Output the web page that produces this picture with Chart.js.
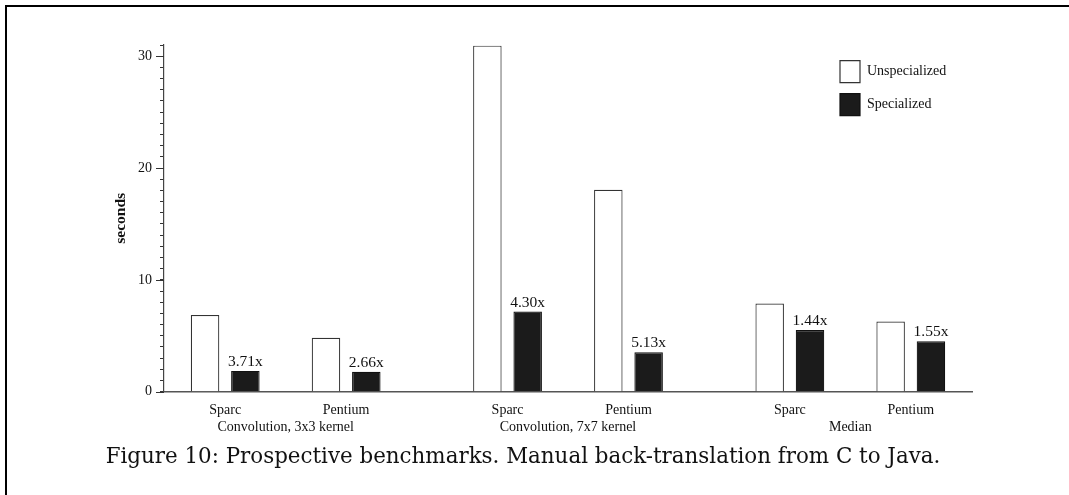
<!doctype html>
<html lang="en">

<head>
	<meta charset="utf-8">
	<title></title>
	<style>
		* {
			margin: 0;
			padding: 0;
		}

		body {
			width: 1069px;
			height: 495px;
			background: #fff;
			position: relative;
			overflow: hidden;
		}

		.frame {
			position: absolute;
			left: 5px;
			top: 5px;
			width: 1080px;
			height: 500px;
			border-top: 2px solid #000;
			border-left: 2px solid #000;
		}

		.chartBox {
			position: absolute;
			left: 0;
			top: 0;
			width: 1069px;
			height: 495px;
		}

		.caption {
			position: absolute;
			left: 0;
			width: 1046px;
			top: 443px;
			text-align: center;
			font-family: 'DejaVu Serif';
			font-size: 21.4px;
			color: #111;
			white-space: nowrap;
		}
	</style>
</head>

<body>
	<div class="frame"></div>
	<div class="chartBox">
		<canvas id="benchChart"></canvas>
	</div>
	<div class="caption">Figure 10: Prospective benchmarks. Manual back-translation from C to Java.</div>

	<script src="https://cdn.jsdelivr.net/npm/chart.js"></script>
	<script>
		const groups = ['Convolution, 3x3 kernel', 'Convolution, 7x7 kernel', 'Median']
		const machines = ['Sparc', 'Pentium']
		const sparcUnspecialized = [6.85, 30.94, 7.89]
		const sparcSpecialized = [1.86, 7.17, 5.51]
		const pentiumUnspecialized = [4.82, 18.06, 6.28]
		const pentiumSpecialized = [1.79, 3.53, 4.52]
		const sparcSpeedup = ['3.71x', '4.30x', '1.44x']
		const pentiumSpeedup = ['2.66x', '5.13x', '1.55x']
		const yMajorTicks = [0, 10, 20, 30]

		const serif = 'Liberation Serif'
		const toPoints = vals => vals.map((v, i) => ({ x: i, y: v }))

		const unspecStyle = { backgroundColor: '#ffffff', borderColor: '#333333', borderWidth: 1.2 }
		const specStyle = { backgroundColor: '#1b1b1b', borderColor: '#111111', borderWidth: 1.2 }

		// extra long ticks at 0/10/20/30
		const majorTicks = {
			id: 'majorTicks',
			afterDraw(chart) {
				const y = chart.scales.y
				const ctx = chart.ctx
				ctx.save()
				ctx.strokeStyle = '#333'
				ctx.lineWidth = 1
				yMajorTicks.forEach(v => {
					const py = Math.round(y.getPixelForValue(v)) + 0.5
					ctx.beginPath()
					ctx.moveTo(y.right - 8, py)
					ctx.lineTo(y.right, py)
					ctx.stroke()
				})
				ctx.restore()
			}
		}

		// speedup labels, machine names and group names
		const barLabels = {
			id: 'barLabels',
			afterDatasetsDraw(chart) {
				const ctx = chart.ctx
				const bottom = chart.chartArea.bottom
				ctx.save()
				ctx.fillStyle = '#111'
				ctx.textAlign = 'center'
				ctx.textBaseline = 'alphabetic'

				ctx.font = '15.5px "' + serif + '"'
				chart.data.datasets.forEach((ds, di) => {
					if (!ds.speedup) return
					chart.getDatasetMeta(di).data.forEach((bar, i) => {
						ctx.fillText(ds.speedup[i], bar.x, bar.y - 5)
					})
				})

				ctx.font = '14px "' + serif + '"'
				const pairs = [[0, 1], [3, 4]]
				pairs.forEach(([a, b], m) => {
					const barsA = chart.getDatasetMeta(a).data
					const barsB = chart.getDatasetMeta(b).data
					barsA.forEach((bar, i) => {
						ctx.fillText(machines[m], (bar.x + barsB[i].x) / 2, bottom + 22.5)
					})
				})
				groups.forEach((g, i) => {
					ctx.fillText(g, chart.scales.x.getPixelForValue(i), bottom + 39.5)
				})
				ctx.restore()
			}
		}

		const data = {
			datasets: [
				{ label: 'Unspecialized', data: toPoints(sparcUnspecialized), ...unspecStyle },
				{ label: 'Specialized', data: toPoints(sparcSpecialized), speedup: sparcSpeedup, ...specStyle },
				// empty slot between the Sparc and Pentium pairs
				{ label: '', data: [] },
				{ label: 'Unspecialized', data: toPoints(pentiumUnspecialized), ...unspecStyle },
				{ label: 'Specialized', data: toPoints(pentiumSpecialized), speedup: pentiumSpeedup, ...specStyle }
			]
		}

		const config = {
			type: 'bar',
			data: data,
			options: {
				responsive: true,
				maintainAspectRatio: false,
				animation: false,
				categoryPercentage: 0.714,
				barPercentage: 0.707,
				layout: {
					padding: { left: 100, top: 45, right: 97, bottom: 95.3 }
				},
				scales: {
					x: {
						type: 'linear',
						offset: false,
						min: -0.431,
						max: 2.431,
						afterBuildTicks: scale => {
							scale.ticks = groups.map((g, i) => ({ value: i }))
						},
						ticks: { display: false },
						grid: { display: false, offset: false },
						border: { display: true, color: '#555', width: 1.5 }
					},
					y: {
						min: 0,
						max: 31,
						afterFit: scale => {
							scale.width = 64
						},
						ticks: {
							stepSize: 1,
							autoSkip: false,
							padding: 8,
							color: '#111',
							font: { family: serif, size: 14 },
							callback: v => (v % 10 === 0 ? v : '')
						},
						grid: {
							drawOnChartArea: false,
							drawTicks: true,
							tickLength: 4,
							tickColor: '#333',
							tickWidth: 1
						},
						border: { display: true, color: '#444', width: 1.2 },
						title: {
							display: true,
							text: 'seconds',
							color: '#111',
							font: { family: serif, size: 15.5, weight: 'bold' },
							padding: { top: 12, bottom: 0 }
						}
					}
				},
				plugins: {
					tooltip: { enabled: false },
					legend: {
						position: 'chartArea',
						align: 'start',
						labels: {
							boxWidth: 20,
							boxHeight: 22,
							padding: 11,
							color: '#111',
							font: { family: serif, size: 14 },
							filter: item => item.datasetIndex < 2
						}
					}
				}
			},
			plugins: [majorTicks, barLabels, {
				id: 'legendSpot',
				afterLayout(chart) {
					// move the legend to the upper right of the plot
					const lg = chart.legend
					const w = 160, h = 90
					lg.left = 829
					lg.top = 49.7
					lg.right = lg.left + w
					lg.bottom = lg.top + h
					lg.width = w
					lg.height = h
				}
			}]
		}

		const benchChart = new Chart(document.getElementById('benchChart'), config)
	</script>
</body>

</html>
